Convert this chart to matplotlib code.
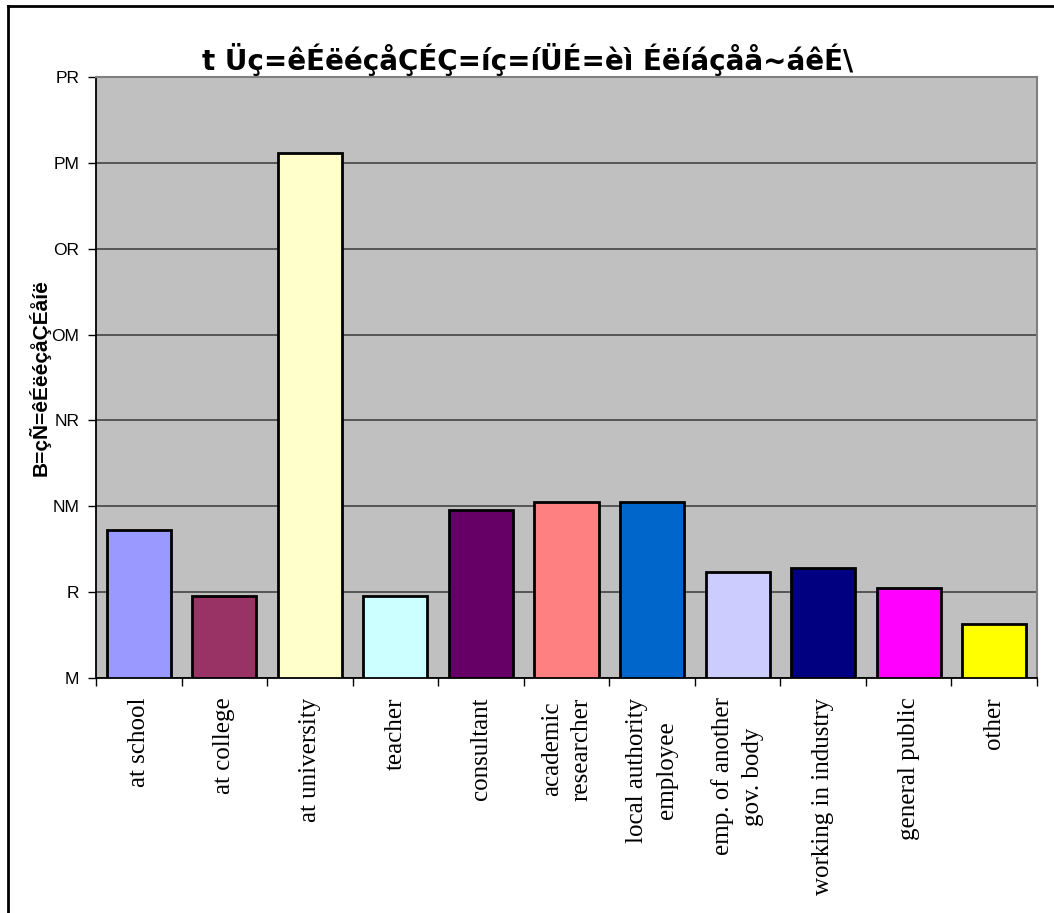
import matplotlib.pyplot as plt
from matplotlib.lines import Line2D
import numpy as np

categories = [
    "at school", "at college", "at university", "teacher", "consultant",
    "academic\nresearcher", "local authority\nemployee",
    "emp. of another\ngov. body", "working in industry", "general public",
    "other",
]
values = [8.6, 4.76, 30.6, 4.76, 9.78, 10.24, 10.24, 6.16, 6.4, 5.24, 3.13]
colors = [
    "#9999FF", "#993366", "#FFFFCC", "#CCFFFF", "#660066", "#FF8080",
    "#0066CC", "#CCCCFF", "#000080", "#FF00FF", "#FFFF00",
]
ytick_values = [0, 5, 10, 15, 20, 25, 30, 35]
ytick_labels = ["M", "R", "NM", "NR", "OM", "OR", "PM", "PR"]
title = "t Üç=êÉëéçåÇÉÇ=íç=íÜÉ=èì Éëíáçåå~áêÉ\\"
ylabel = "B=çÑ=êÉëéçåÇÉåíë"

W, H = 1054, 913
fig = plt.figure(figsize=(W / 100, H / 100), dpi=100)
ax = fig.add_axes([96 / W, 1 - 678 / H, (1037 - 96) / W, (678 - 77) / H])
ax.set_facecolor("#C0C0C0")

x = np.arange(len(categories))
ax.bar(x, values, width=0.75, color=colors, edgecolor="black",
       linewidth=2, zorder=3)

ax.set_xlim(-0.5, len(categories) - 0.5)
ax.set_ylim(0, 35)

ax.set_yticks(ytick_values)
ax.set_yticklabels(ytick_labels, fontsize=12.5, family="Liberation Sans")
ax.yaxis.grid(True, color="#4d4d4d", linewidth=1.3, zorder=1)
ax.tick_params(axis="y", direction="out", length=6, width=1, pad=6)

# category labels at the centres, tick marks at the boundaries
ax.set_xticks(x)
ax.set_xticklabels(categories, rotation=90, fontsize=18,
                   family="Liberation Serif", va="top", ha="center",
                   multialignment="center", linespacing=1.45)
ax.tick_params(axis="x", which="major", length=0, pad=14)
ax.set_xticks(np.arange(len(categories) + 1) - 0.5, minor=True)
ax.tick_params(axis="x", which="minor", direction="out", length=6, width=1)

for side in ("left", "bottom"):
    ax.spines[side].set_color("black")
    ax.spines[side].set_linewidth(1.3)
for side in ("top", "right"):
    ax.spines[side].set_color("#808080")
    ax.spines[side].set_linewidth(1.5)

fig.text(528 / W, 1 - 60 / H, title, ha="center", va="center",
         fontsize=20, fontweight="bold", family="DejaVu Sans")
fig.text(40 / W, 1 - 378 / H, ylabel, ha="center", va="center",
         rotation=90, fontsize=15, fontweight="bold", family="Liberation Sans")

# chart area border
fig.add_artist(Line2D([8 / W, 8 / W], [0, 1 - 6 / H], color="black",
                      linewidth=2, transform=fig.transFigure))
fig.add_artist(Line2D([8 / W, 1], [1 - 6 / H, 1 - 6 / H], color="black",
                      linewidth=2, transform=fig.transFigure))

fig.savefig("out.png", dpi=100, facecolor="white")
